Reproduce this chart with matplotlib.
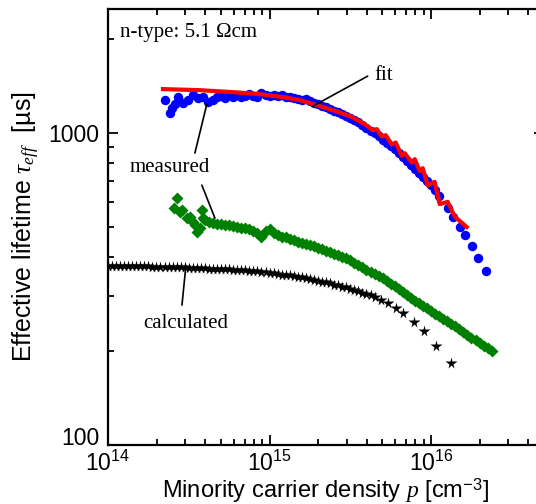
import matplotlib
matplotlib.use('Agg')
import matplotlib.pyplot as plt
from matplotlib.ticker import LogLocator, NullFormatter, FixedLocator, FixedFormatter

# ---------------- data ----------------
# measured (blue circles)
blue_p = [2.25e14, 2.42e14, 2.49e14, 2.60e14, 2.71e14, 2.91e14, 3.13e14, 3.36e14, 3.61e14, 3.87e14, 4.15e14, 4.46e14,
          4.732e14, 5.012e14, 5.309e14, 5.623e14, 5.957e14, 6.310e14, 6.683e14, 7.079e14, 7.499e14, 7.943e14,
          8.414e14, 8.913e14, 9.441e14,
          1.000e15, 1.059e15, 1.122e15, 1.189e15, 1.259e15, 1.334e15, 1.413e15, 1.496e15, 1.585e15, 1.679e15,
          1.778e15, 1.884e15, 1.995e15, 2.113e15, 2.239e15, 2.371e15, 2.512e15, 2.661e15, 2.818e15, 2.985e15,
          3.162e15, 3.350e15, 3.548e15, 3.758e15, 3.981e15, 4.217e15, 4.467e15, 4.732e15, 5.012e15, 5.309e15,
          5.623e15, 5.957e15, 6.310e15, 6.683e15, 7.079e15, 7.499e15, 7.943e15, 8.414e15, 8.913e15, 9.441e15,
          1.000e16, 1.059e16, 1.122e16,
          1.267e16, 1.361e16, 1.504e16, 1.614e16, 1.784e16, 1.942e16, 2.18e16]
blue_tau = [1276, 1159, 1203, 1238, 1305, 1248, 1276, 1324, 1295, 1305, 1257, 1276,
            1305, 1314, 1295, 1324, 1305, 1324, 1305, 1314, 1334, 1314,
            1305, 1343, 1324,
            1314, 1324, 1314, 1324, 1305, 1305, 1295, 1285, 1276, 1285,
            1267, 1248, 1238, 1220, 1211, 1193, 1176, 1167, 1151, 1134,
            1117, 1101, 1085, 1061, 1038, 1015, 1000, 978, 950, 929,
            909, 889, 863, 838, 813, 790, 767, 744, 723, 702,
            681, 657, 628,
            575, 538, 500, 471, 434, 398, 361]

# fit (red line)
fit_p = [2.19e14, 3.71e14, 5.93e14, 8.71e14, 1.208e15, 1.539e15, 1.962e15, 2.462e15, 3.14e15, 3.88e15,
         4.35e15, 4.61e15, 4.95e15, 5.24e15, 5.70e15, 6.04e15, 6.58e15, 6.87e15, 7.59e15, 7.92e15,
         8.50e15, 8.87e15, 9.53e15, 1.052e16, 1.130e16, 1.267e16, 1.400e16, 1.660e16]
fit_tau = [1384, 1373, 1353, 1334, 1305, 1276, 1229, 1185, 1134, 1069,
           1022, 1030, 975, 985, 920, 933, 845, 862, 805, 825,
           755, 772, 680, 698, 592, 602, 540, 500]

# measured (green diamonds)
green_p = [2.67e14, 2.55e14, 2.79e14, 2.87e14, 3.08e14, 3.22e14, 3.36e14, 3.45e14, 3.55e14, 3.71e14, 3.81e14, 3.87e14,
           3.981e14, 4.217e14, 4.467e14, 4.732e14, 5.012e14, 5.309e14, 5.623e14, 5.957e14, 6.310e14, 6.683e14,
           7.079e14, 7.499e14, 7.943e14, 8.414e14, 8.913e14, 9.441e14,
           1.000e15, 1.059e15, 1.122e15, 1.189e15, 1.259e15, 1.334e15, 1.413e15, 1.496e15, 1.585e15, 1.679e15,
           1.778e15, 1.884e15, 1.995e15, 2.113e15, 2.239e15, 2.371e15, 2.512e15, 2.661e15, 2.818e15, 2.985e15,
           3.162e15, 3.350e15, 3.548e15, 3.758e15, 3.981e15, 4.217e15, 4.467e15, 4.732e15, 5.012e15, 5.309e15,
           5.623e15, 5.957e15, 6.310e15, 6.683e15, 7.079e15, 7.499e15, 7.943e15, 8.414e15, 8.913e15, 9.441e15,
           1.000e16, 1.059e16, 1.122e16, 1.189e16, 1.259e16, 1.334e16, 1.413e16, 1.496e16, 1.585e16, 1.679e16,
           1.778e16, 1.884e16, 1.995e16, 2.113e16, 2.239e16, 2.371e16]
green_tau = [619, 577, 558, 566, 534, 538, 518, 507, 482, 496, 566, 534,
             526, 520, 516, 513, 510, 508, 506, 504, 499, 496,
             496, 491, 484, 478, 466, 485,
             492, 478, 471, 466, 463, 459, 454, 449, 445, 441,
             437, 433, 428, 424, 419, 416, 411, 406, 401, 397,
             391, 384, 377, 371, 365, 359, 354, 348, 343, 336,
             329, 323, 316, 310, 303, 296, 290, 285, 280, 274,
             269, 264, 259, 254, 249, 245, 240, 235, 230, 226,
             221, 217, 213, 208, 204, 200]

# calculated (black stars)
black_p = [1.000e14, 1.059e14, 1.122e14, 1.189e14, 1.259e14, 1.334e14, 1.413e14, 1.496e14, 1.585e14, 1.679e14,
           1.778e14, 1.884e14, 1.995e14, 2.113e14, 2.239e14, 2.371e14, 2.512e14, 2.661e14, 2.818e14, 2.985e14,
           3.162e14, 3.350e14, 3.548e14, 3.758e14, 3.981e14, 4.217e14, 4.467e14, 4.732e14, 5.012e14, 5.309e14,
           5.623e14, 5.957e14, 6.310e14, 6.683e14, 7.079e14, 7.499e14, 7.943e14, 8.414e14, 8.913e14, 9.441e14,
           1.000e15, 1.059e15, 1.122e15, 1.189e15, 1.259e15, 1.334e15, 1.413e15, 1.496e15, 1.585e15, 1.679e15,
           1.778e15, 1.884e15, 1.995e15, 2.113e15, 2.239e15, 2.371e15, 2.512e15, 2.661e15, 2.818e15, 2.985e15,
           3.162e15, 3.350e15, 3.548e15, 3.758e15, 3.981e15, 4.217e15, 4.467e15,
           4.88e15, 5.40e15, 6.04e15, 6.67e15, 7.80e15, 8.99e15, 1.067e16, 1.32e16]
black_tau = [375, 375, 375, 375, 375, 374, 374, 374, 374, 374,
             374, 373, 373, 373, 373, 372, 372, 372, 371, 371,
             370, 370, 370, 369, 369, 368, 368, 367, 367, 366,
             366, 365, 365, 364, 363, 362, 361, 360, 359, 358,
             357, 356, 354, 352, 351, 350, 348, 346, 345, 343,
             341, 339, 336, 334, 332, 330, 327, 325, 322, 320,
             317, 314, 311, 308, 305, 302, 299,
             292, 285, 275, 265, 248, 232, 208, 183]

x_limits = (1e14, 5e16)
y_limits = (100, 2500)
y_ticks = [100, 1000]
y_ticklabels = ['100', '1000']

# annotation positions (data coordinates): text anchor and leader lines
ann_texts = [('fit', (4.48e15, 1535), 'left'),
             ('measured', (2.42e14, 778), 'center'),
             ('calculated', (3.03e14, 246), 'center')]
ann_lines = [((4.05e15, 1523), (1.854e15, 1220)),
             ((4.09e14, 1238), (3.45e14, 863)),
             ((3.81e14, 681), (4.59e14, 534)),
             ((3.03e14, 372), (2.87e14, 281))]

# ---------------- style ----------------
plt.rcParams['font.family'] = ['Liberation Sans', 'DejaVu Sans']
plt.rcParams['mathtext.fontset'] = 'custom'
plt.rcParams['mathtext.rm'] = 'Liberation Sans'
plt.rcParams['mathtext.it'] = 'Liberation Serif:italic'
plt.rcParams['mathtext.bf'] = 'Liberation Sans:bold'

fig = plt.figure(figsize=(5.36, 5.04), dpi=100)
ax = fig.add_axes([108 / 536, 59 / 504, 436 / 536, 436 / 504])
ax.set_xscale('log')
ax.set_yscale('log')

ax.plot(blue_p, blue_tau, 'o', color='#0000ff', ms=6.8, mec='none', zorder=2)
ax.plot(fit_p, fit_tau, '-', color='#ff0000', lw=3, zorder=3)
ax.plot(green_p, green_tau, 'D', color='#008000', ms=6.0, mec='none', zorder=2)
ax.plot(black_p, black_tau, '*', color='black', ms=8.5, mec='none', zorder=2)

for (a, b) in ann_lines:
    ax.annotate('', xy=b, xytext=a, xycoords='data',
                arrowprops=dict(arrowstyle='-', lw=1.2, color='black',
                                shrinkA=0, shrinkB=0), zorder=4)
for (txt, pos, ha) in ann_texts:
    ax.text(pos[0], pos[1], txt, ha=ha, va='center', fontsize=15,
            family='Liberation Serif', zorder=5)
ax.text(0.027, 0.945, 'n-type: 5.1 \u03a9cm', transform=ax.transAxes, ha='left', va='center',
        fontsize=15, family='Liberation Serif')

ax.set_xlim(*x_limits)
ax.set_ylim(*y_limits)
ax.yaxis.set_major_locator(FixedLocator(y_ticks))
ax.yaxis.set_major_formatter(FixedFormatter(y_ticklabels))
ax.yaxis.set_minor_locator(LogLocator(base=10, subs=range(2, 10), numticks=20))
ax.yaxis.set_minor_formatter(NullFormatter())
ax.xaxis.set_major_locator(LogLocator(base=10, numticks=10))
ax.xaxis.set_minor_locator(LogLocator(base=10, subs=range(2, 10), numticks=20))
ax.xaxis.set_minor_formatter(NullFormatter())

ax.tick_params(which='both', direction='in', top=True, right=True, width=1.3, labelsize=16.5)
ax.tick_params(axis='x', pad=4)
ax.tick_params(axis='y', pad=6)
ax.tick_params(which='major', length=7.5)
ax.tick_params(which='minor', length=4.5)
for s in ax.spines.values():
    s.set_linewidth(1.6)

# lift the bottom "100" label so it sits above the 10^14 label, as in the original
ax.yaxis.get_major_ticks()[0].label1.set_verticalalignment('baseline')

ax.set_xlabel('Minority carrier density $p$ [cm$^{-3}$]', fontsize=17)
ax.xaxis.set_label_coords(0.5, -0.072)
ax.set_ylabel('Effective lifetime $\\tau_{eff}$  [\u00b5s]', fontsize=18)
ax.yaxis.set_label_coords(-0.152, 0.5)

fig.savefig('out.png', dpi=100)
